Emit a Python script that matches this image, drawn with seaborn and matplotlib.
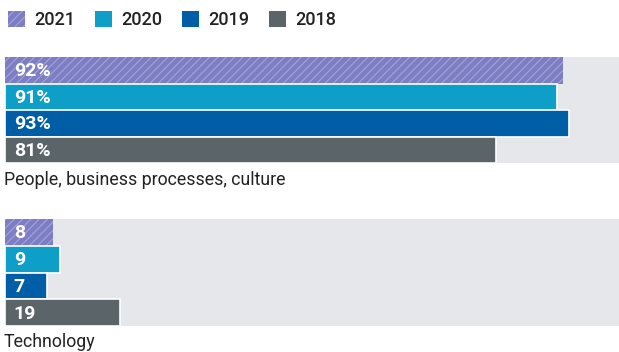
import matplotlib
matplotlib.use("Agg")
import matplotlib.pyplot as plt
import seaborn as sns
import pandas as pd
from matplotlib.patches import Patch

years = ["2021", "2020", "2019", "2018"]
people_values = [92, 91, 93, 81]
tech_values = [8, 9, 7, 19]
people_labels = ["92%", "91%", "93%", "81%"]
tech_labels = ["8", "9", "7", "19"]
panel_titles = ["People, business processes, culture", "Technology"]

colors = {"2021": "#7d7dc4", "2020": "#0d9fc8", "2019": "#005ea6", "2018": "#5b6469"}
hatch_color = "#a3a3db"
bg = "#e5e7ea"

sns.set_theme(style="white")
plt.rcParams['font.family'] = ['Roboto', 'DejaVu Sans']
plt.rcParams['hatch.linewidth'] = 0.8

fig = plt.figure(figsize=(6.19, 3.52), dpi=100)
W, H = 619, 352

def add_ax(top, bottom):
    return fig.add_axes([5 / W, 1 - bottom / H, 1 - 5 / W, (bottom - top) / H])

panels = [
    (add_ax(57, 163), people_values, people_labels, 180),
    (add_ax(219, 326), tech_values, tech_labels, 342),
]

for i, (ax, vals, labs, ty) in enumerate(panels):
    df = pd.DataFrame({"year": years, "value": vals})
    sns.barplot(data=df, x="value", y="year", hue="year", palette=colors,
                order=years, hue_order=years, dodge=False, legend=False,
                width=1.0, ax=ax, edgecolor="white", linewidth=1.2, saturation=1)
    ax.set_facecolor(bg)
    ax.set_xlim(0, 101.3)
    ax.set_ylim(3.5, -0.5)
    for sp in ax.spines.values():
        sp.set_visible(False)
    ax.set_xticks([])
    ax.set_yticks([])
    ax.set_xlabel("")
    ax.set_ylabel("")
    for p in ax.patches:
        yc = p.get_y() + p.get_height() / 2
        if abs(yc - 0) < 0.3:
            p.set_hatch("////")
            p.set_edgecolor(hatch_color)
            p.set_linewidth(0)
    for j, lab in enumerate(labs):
        ax.text(1.45, j + 0.04, lab, color="white", fontsize=14, fontweight="bold",
                va="center", ha="left")
    fig.text(4 / W, 1 - ty / H, panel_titles[i], fontsize=12.8, color="#222222",
             va="center", ha="left")

handles = []
for y in years:
    if y == "2021":
        handles.append(Patch(facecolor=colors[y], edgecolor=hatch_color, hatch="////", linewidth=0, label=y))
    else:
        handles.append(Patch(facecolor=colors[y], edgecolor="none", label=y))
fig.legend(handles=handles, loc="center left", bbox_to_anchor=(0.004, 1 - 20 / H),
           ncol=4, frameon=False, handlelength=0.95, handleheight=0.95,
           handletextpad=0.5, columnspacing=1.1, borderaxespad=0, borderpad=0.3,
           labelcolor="#222222", prop={"weight": "medium", "size": 13})

fig.savefig("out.png", dpi=100)
